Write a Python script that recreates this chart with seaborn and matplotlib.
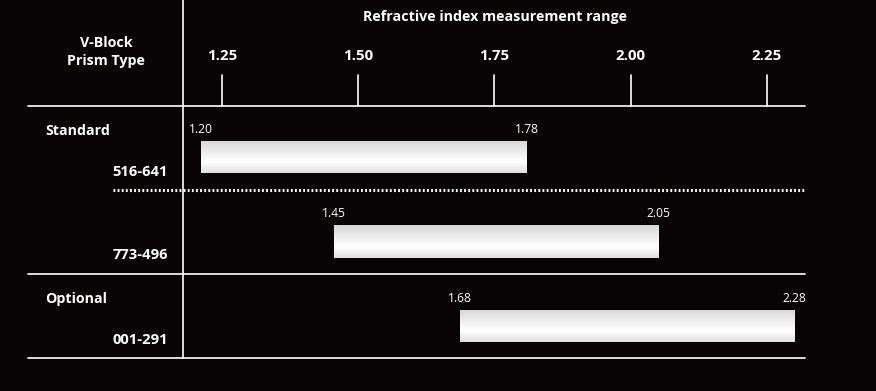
import numpy as np
import pandas as pd
import matplotlib
matplotlib.use("Agg")
import matplotlib.pyplot as plt
import seaborn as sns

# ---------------- data ----------------
prisms = ["516-641", "773-496", "001-291"]
groups = ["Standard", "", "Optional"]
range_start = [1.212, 1.455, 1.687]       # bar extents
range_end = [1.81, 2.05, 2.30]
start_labels = ["1.20", "1.45", "1.68"]   # printed values
end_labels = ["1.78", "2.05", "2.28"]
tick_values = [1.25, 1.50, 1.75, 2.00, 2.25]
tick_labels = ["1.25", "1.50", "1.75", "2.00", "2.25"]
title = "Refractive index measurement range"
header = "V-Block\nPrism Type"

# ---------------- style ----------------
BG = "#080305"
FG = "white"
sns.set_style("dark")
plt.rcParams["font.family"] = ["Open Sans", "DejaVu Sans"]

W, H = 876, 391
fig = plt.figure(figsize=(W / 100, H / 100), dpi=100, facecolor=BG)
ax = fig.add_axes([0, 0, 1, 1])
ax.set_facecolor(BG)

# pixel <-> data mapping
XPX0, XSCALE = 222, 545.0      # pixel of 1.25, px per unit
YPX0, YSCALE = 157, 84.5       # pixel of first category centre, px per category


def px2x(px):
    return 1.25 + (px - XPX0) / XSCALE


def px2y(py):
    return (py - YPX0) / YSCALE


df = pd.DataFrame({
    "prism": prisms,
    "start": range_start,
    "width": np.array(range_end) - np.array(range_start),
})

sns.barplot(data=df, x="width", y="prism", left=df["start"], orient="h",
            color="#e4e4e4", width=0.39, ax=ax, linewidth=0, saturation=1)

ax.set_xlim(px2x(0), px2x(W))
ax.set_ylim(px2y(H), px2y(0))
ax.set_axis_off()

# gradient fill for each bar
grad = np.concatenate([np.linspace(0.84, 1.0, 65), np.linspace(1.0, 0.87, 35)])
grad_img = np.repeat(grad[:, None], 2, axis=1)
for p in ax.patches:
    x0, y0 = p.get_x(), p.get_y()
    w, h = p.get_width(), p.get_height()
    im = ax.imshow(grad_img, cmap="gray", vmin=0, vmax=1, aspect="auto",
                   extent=(x0, x0 + w, y0 + h, y0), zorder=3,
                   interpolation="bicubic")
    im.set_clip_path(p)

# value labels above bar ends
for i, (s, e, sl, el) in enumerate(zip(range_start, range_end, start_labels, end_labels)):
    ytxt = i - 0.33
    ax.text(s, ytxt, sl, color=FG, fontsize=8.7, ha="center", va="center")
    ax.text(e, ytxt, el, color=FG, fontsize=8.7, ha="center", va="center")

# grid frame lines
lw = 1.2
ax.plot([px2x(28), px2x(805)], [px2y(106)] * 2, color=FG, lw=lw)
ax.plot([px2x(113), px2x(805)], [px2y(190)] * 2, color=FG, lw=2.2,
        linestyle=(0, (0.6, 0.75)))
ax.plot([px2x(28), px2x(805)], [px2y(274)] * 2, color=FG, lw=lw)
ax.plot([px2x(28), px2x(805)], [px2y(358)] * 2, color=FG, lw=lw)
ax.plot([px2x(183)] * 2, [px2y(0), px2y(358)], color=FG, lw=lw)

# ticks and tick labels
for v, t in zip(tick_values, tick_labels):
    ax.plot([v, v], [px2y(75), px2y(106)], color=FG, lw=lw)
    ax.text(v, px2y(56), t, color=FG, fontsize=10.8, fontweight="bold",
            ha="center", va="center")

ax.text(px2x(495), px2y(17), title, color=FG, fontsize=10.3, fontweight="bold",
        ha="center", va="center")
ax.text(px2x(106), px2y(52), header, color=FG, fontsize=10.3, fontweight="bold",
        ha="center", va="center", linespacing=1.45)

# row labels
group_px = [131, None, 299]
for g, gp in zip(groups, group_px):
    if g:
        ax.text(px2x(45), px2y(gp), g, color=FG, fontsize=10.2, fontweight="bold",
                ha="left", va="center")
prism_px = [172, 255, 340]
for name, pp in zip(prisms, prism_px):
    ax.text(px2x(168), px2y(pp), name, color=FG, fontsize=10.6, fontweight="bold",
            ha="right", va="center")

fig.savefig("out.png", dpi=100, facecolor=BG)
